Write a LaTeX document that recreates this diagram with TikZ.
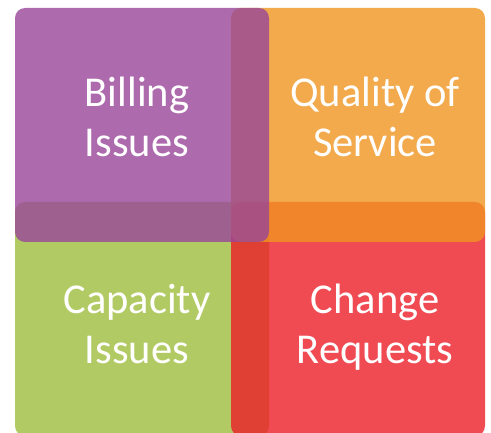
\documentclass[tikz,border=0pt]{standalone}
\usepackage{fontspec}
\setmainfont{Carlito}
\usetikzlibrary{positioning}
\definecolor{color1}{RGB}{153,70,153}
\definecolor{color2}{RGB}{240,149,33}
\definecolor{color3}{RGB}{159,189,61}
\definecolor{color4}{RGB}{236,29,40}
\tikzset{
    quad/.style={fill opacity=0.8, rounded corners=10pt},
    quadtext/.style={text=white, align=center, anchor=base, font=\fontsize{42.5}{50.5}\selectfont}
}

\begin{document}
\begin{tikzpicture}[x=1pt, y=1pt, line cap=round]
        \useasboundingbox (0,0) rectangle (491,432);
        \fill [color3, quad] (15,-4) rectangle (269,230);
        \fill [color4, quad] (231,-4) rectangle (485,230);
        \fill [color2, quad] (231,190) rectangle (485,424);
        \fill [color1, quad] (15,190) rectangle (269,424);

        \node [quadtext] (billing) at (137,275) {Billing\\Issues};
        \node [quadtext] (quality) at (375,275) {Quality of\\Service};
        \node [quadtext] (capacity) at (137,68) {Capacity\\Issues};
        \node [quadtext] (change) at (375,68) {Change\\Requests};
    \end{tikzpicture}
\end{document}
